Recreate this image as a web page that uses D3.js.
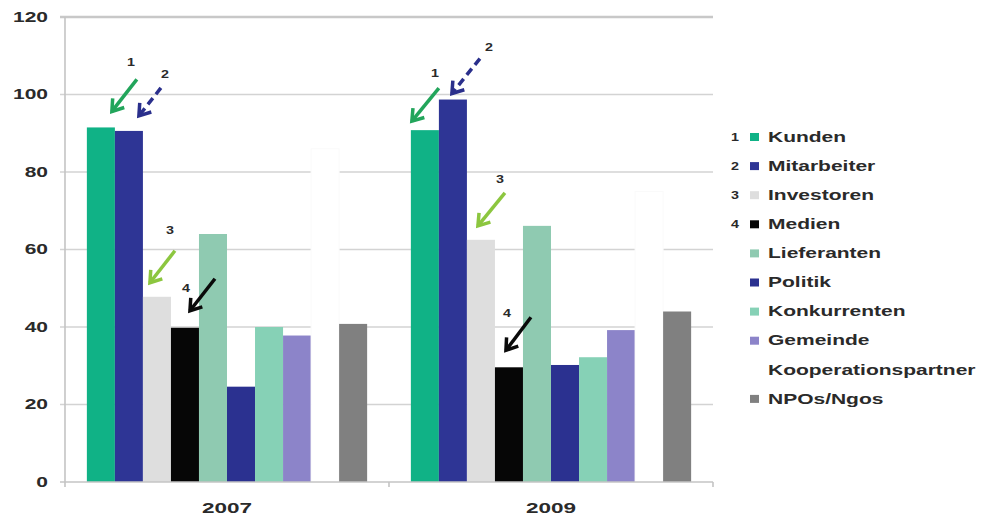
<!DOCTYPE html>
<meta charset="utf-8">
<style>
  body { margin: 0; background: #fff; }
  text { font-family: "Liberation Sans", Arial, sans-serif; fill: #2a2a2a; }
</style>
<body>
<svg width="992" height="517"></svg>
<script src="https://cdn.jsdelivr.net/npm/d3@7"></script>
<script>
  // data
  var categories = ['2007', '2009'];
  var series = ['Kunden', 'Mitarbeiter', 'Investoren', 'Medien', 'Lieferanten', 'Politik',
    'Konkurrenten', 'Gemeinde', 'Kooperationspartner', 'NPOs/Ngos'];
  var legendNumbers = ['1', '2', '3', '4', '', '', '', '', '', ''];
  var colors = ['#10b286', '#2e3595', '#dedede', '#060606', '#8fcab1', '#2b3190',
    '#86d1b6', '#8c84c9', '#ffffff', '#808080'];
  var values2007 = [91.5, 90.6, 47.8, 39.8, 64, 24.6, 40, 37.8, 86, 40.8];
  var values2009 = [90.8, 98.7, 62.5, 29.6, 66.1, 30.2, 32.2, 39.2, 75, 44];
  var yTicks = [0, 20, 40, 60, 80, 100, 120];

  // hand drawn arrows: which bar they point at, offsets from the bar's top-left corner
  var arrows = [
    {cat: '2007', s: 0, label: '1', color: '#22a55b', dashed: false, dx: 25, dy: -16, vx: 25, vy: -32, lx: -6, ly: -17},
    {cat: '2007', s: 1, label: '2', color: '#2a2f8c', dashed: true, dx: 24, dy: -15, vx: 22, vy: -28, lx: 4, ly: -14},
    {cat: '2007', s: 2, label: '3', color: '#8cc63f', dashed: false, dx: 7, dy: -14, vx: 25, vy: -32, lx: -5, ly: -21},
    {cat: '2007', s: 3, label: '4', color: '#0a0a0a', dashed: false, dx: 19, dy: -17, vx: 25, vy: -32, lx: -29, ly: 9},
    {cat: '2009', s: 0, label: '1', color: '#22a55b', dashed: false, dx: 1, dy: -9, vx: 27, vy: -33, lx: -4, ly: -15},
    {cat: '2009', s: 1, label: '2', color: '#2a2f8c', dashed: true, dx: 13, dy: -6, vx: 28, vy: -35, lx: 9, ly: -11},
    {cat: '2009', s: 2, label: '3', color: '#8cc63f', dashed: false, dx: 11, dy: -14, vx: 27, vy: -33, lx: -5, ly: -14},
    {cat: '2009', s: 3, label: '4', color: '#0a0a0a', dashed: false, dx: 11, dy: -17, vx: 25, vy: -33, lx: -24, ly: -4}
  ];

  var valuesByCat = {'2007': values2007, '2009': values2009};

  var svg = d3.select('svg');
  var plot = {left: 65, right: 713, top: 17, bottom: 482};

  var x0 = d3.scaleBand().domain(categories).range([plot.left, plot.right]);
  var x1 = d3.scaleBand().domain(d3.range(series.length))
    .range([0, x0.bandwidth()]).paddingInner(0).paddingOuter(0.78);
  var y = d3.scaleLinear().domain([0, 120]).range([plot.bottom, plot.top]);

  // stretched text, the original picture is wider than tall
  function label(g, x, yy, str, size, anchor, sx, weight) {
    return g.append('text')
      .attr('transform', 'translate(' + x + ',' + yy + ') scale(' + sx + ',1)')
      .attr('text-anchor', anchor)
      .attr('dominant-baseline', 'central')
      .style('font-size', size + 'px')
      .style('font-weight', weight || 'bold')
      .text(str);
  }

  // gridlines
  svg.append('g').selectAll('line').data(yTicks.slice(1)).enter().append('line')
    .attr('x1', plot.left - 5).attr('x2', plot.right)
    .attr('y1', function (d) { return y(d); })
    .attr('y2', function (d) { return y(d); })
    .attr('stroke', function (d) { return d === 120 ? '#c8c8c8' : '#d3d3d3'; })
    .attr('stroke-width', function (d) { return d === 120 ? 2.5 : 1.6; });

  // y axis
  var yAxis = svg.append('g');
  yAxis.append('line')
    .attr('x1', plot.left).attr('x2', plot.left)
    .attr('y1', plot.top).attr('y2', plot.bottom)
    .attr('stroke', '#c4c4c4').attr('stroke-width', 1.6);
  yTicks.forEach(function (t) {
    label(yAxis, 48, y(t), t, 14, 'end', 1.5);
  });

  // bars
  var groups = svg.append('g').selectAll('g').data(categories).enter().append('g')
    .attr('transform', function (d) { return 'translate(' + x0(d) + ',0)'; });
  groups.selectAll('rect')
    .data(function (c) { return valuesByCat[c].map(function (v, i) { return {i: i, v: v}; }); })
    .enter().append('rect')
    .attr('x', function (d) { return x1(d.i); })
    .attr('width', x1.bandwidth())
    .attr('y', function (d) { return y(d.v); })
    .attr('height', function (d) { return y(0) - y(d.v); })
    .attr('fill', function (d) { return colors[d.i]; })
    .attr('stroke', function (d) { return d.i === 8 ? '#fafafa' : 'none'; });

  // x axis
  var xAxis = svg.append('g');
  xAxis.append('line')
    .attr('x1', plot.left - 5).attr('x2', plot.right)
    .attr('y1', plot.bottom).attr('y2', plot.bottom)
    .attr('stroke', '#c4c4c4').attr('stroke-width', 1.6);
  var bounds = categories.map(function (c) { return x0(c); }).concat([plot.right]);
  xAxis.selectAll('.tick').data(bounds).enter().append('line')
    .attr('x1', function (d) { return d; }).attr('x2', function (d) { return d; })
    .attr('y1', plot.bottom).attr('y2', plot.bottom + 5)
    .attr('stroke', '#c4c4c4').attr('stroke-width', 1.6);
  categories.forEach(function (c) {
    label(xAxis, x0(c) + x0.bandwidth() / 2, 508, c, 15, 'middle', 1.5);
  });

  // arrows
  var ag = svg.append('g');
  arrows.forEach(function (a) {
    var v = valuesByCat[a.cat][a.s];
    var bx = x0(a.cat) + x1(a.s), by = y(v);
    var tx = bx + a.dx, ty = by + a.dy;
    var sx = tx + a.vx, sy = ty + a.vy;
    var ang = Math.atan2(ty - sy, tx - sx);
    var hl = 13, spread = 0.6;
    var h1 = [tx - hl * Math.cos(ang - spread), ty - hl * Math.sin(ang - spread)];
    var h2 = [tx - hl * Math.cos(ang + spread), ty - hl * Math.sin(ang + spread)];
    ag.append('line')
      .attr('x1', sx).attr('y1', sy).attr('x2', tx).attr('y2', ty)
      .attr('stroke', a.color).attr('stroke-width', 3.5)
      .attr('stroke-dasharray', a.dashed ? '8,5' : null);
    ag.append('path')
      .attr('d', d3.line()([h1, [tx, ty], h2]))
      .attr('fill', 'none').attr('stroke', a.color).attr('stroke-width', 3.5)
      .attr('stroke-linejoin', 'miter');
    label(ag, sx + a.lx, sy + a.ly, a.label, 11, 'middle', 1.3);
  });

  // legend
  var lg = svg.append('g');
  series.forEach(function (s, i) {
    var ly = 137 + i * 29.1;
    if (legendNumbers[i]) label(lg, 735, ly, legendNumbers[i], 11, 'middle', 1.3);
    lg.append('rect')
      .attr('x', 750).attr('y', ly - 4).attr('width', 9).attr('height', 8)
      .attr('fill', colors[i]);
    label(lg, 768, ly, s, 14, 'start', 1.5);
  });
</script>
</body>
